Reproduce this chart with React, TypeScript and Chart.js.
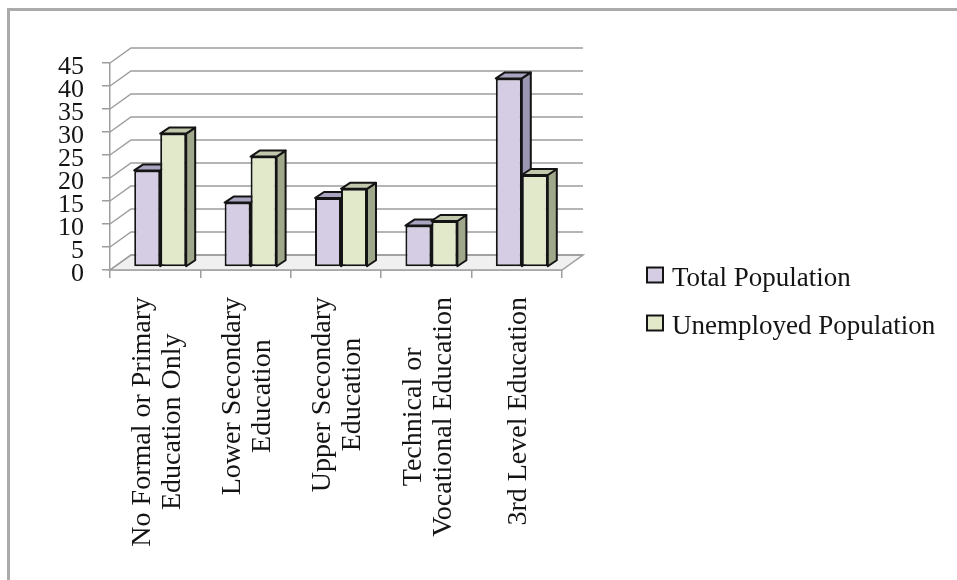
import React, { useEffect, useRef } from "react";
import { Chart, registerables } from "chart.js";

Chart.register(...registerables);

// Education levels (multi-line category labels)
const categories: string[][] = [
  ["No Formal or Primary", "Education Only"],
  ["Lower Secondary", "Education"],
  ["Upper Secondary", "Education"],
  ["Technical or", "Vocational Education"],
  ["3rd Level Education"],
];

const seriesNames = ["Total Population", "Unemployed Population"];
const totalPopulation = [21, 14, 15, 9, 41];
const unemployedPopulation = [29, 24, 17, 10, 20];

const yMin = 0;
const yMax = 45;
const yStep = 5;

const FONT = '"Liberation Serif", "Times New Roman", serif';
const GRID = "#9d9d9d";
const INK = "#141414";

// oblique offset of the back wall relative to the front plane
const WALL_DX = 21;
const WALL_DY = -15;
// bars stand a little behind the front plane
const BAR_SHIFT_X = 5;
const BAR_SHIFT_Y = -3;
// depth of each bar
const BAR_DX = 9;
const BAR_DY = -6;

const faceColors = [
  { front: "#d5cde4", top: "#aaa4c0", side: "#9c97b3" },
  { front: "#e2e9ca", top: "#c1c8ab", side: "#a0a88c" },
];

const LABEL_FONT = 28;
const LABEL_GAP = 27;
const LABEL_LINE = 30;
const LABEL_DX = 2;

// legend block to the right of the plot
const LEGEND_FONT = 27;
const LEGEND_X = 647;
const LEGEND_Y = 279;
const LEGEND_ROW = 48;
const LEGEND_BOX_W = 16;
const LEGEND_BOX_H = 15;
const LEGEND_BOX_LIFT = 4;
const LEGEND_TEXT_GAP = 9;

function poly(ctx: CanvasRenderingContext2D, pts: number[][], fill: string) {
  ctx.beginPath();
  ctx.moveTo(pts[0][0], pts[0][1]);
  for (let k = 1; k < pts.length; k++) ctx.lineTo(pts[k][0], pts[k][1]);
  ctx.closePath();
  ctx.fillStyle = fill;
  ctx.fill();
  ctx.stroke();
}

const box3d = {
  id: "box3d",
  beforeDatasetsDraw(chart: any) {
    const { ctx, chartArea: a, scales } = chart;
    const ys = scales.y;
    ctx.save();
    ctx.lineWidth = 1.5;
    ctx.strokeStyle = GRID;

    // floor
    const y0 = ys.getPixelForValue(yMin);
    ctx.beginPath();
    ctx.moveTo(a.left, y0);
    ctx.lineTo(a.right, y0);
    ctx.lineTo(a.right + WALL_DX, y0 + WALL_DY);
    ctx.lineTo(a.left + WALL_DX, y0 + WALL_DY);
    ctx.closePath();
    ctx.fillStyle = "#f0f0f0";
    ctx.fill();
    ctx.stroke();

    // side wall and back wall gridlines
    ys.ticks.forEach((t: any) => {
      const py = ys.getPixelForValue(t.value);
      ctx.beginPath();
      ctx.moveTo(a.left, py);
      ctx.lineTo(a.left + WALL_DX, py + WALL_DY);
      ctx.lineTo(a.right + WALL_DX, py + WALL_DY);
      ctx.stroke();
    });

    // side and top faces of the bars
    ctx.translate(BAR_SHIFT_X, BAR_SHIFT_Y);
    ctx.strokeStyle = INK;
    ctx.lineWidth = 2;
    ctx.lineJoin = "round";
    const n = chart.data.labels.length;
    for (let i = 0; i < n; i++) {
      chart.data.datasets.forEach((_ds: any, di: number) => {
        if (!chart.isDatasetVisible(di)) return;
        const el = chart.getDatasetMeta(di).data[i];
        const { x, y, base, width } = el.getProps(["x", "y", "base", "width"], true);
        const l = x - width / 2;
        const r = x + width / 2;
        const c = faceColors[di];
        poly(ctx, [[r, base], [r + BAR_DX, base + BAR_DY], [r + BAR_DX, y + BAR_DY], [r, y]], c.side);
        poly(ctx, [[l, y], [r, y], [r + BAR_DX, y + BAR_DY], [l + BAR_DX, y + BAR_DY]], c.top);
      });
    }
    ctx.restore();

    ctx.save();
    ctx.translate(BAR_SHIFT_X, BAR_SHIFT_Y);
  },
  afterDatasetsDraw(chart: any) {
    chart.ctx.restore();
  },
  afterDraw(chart: any) {
    const { ctx, chartArea: a, scales } = chart;
    const xs = scales.x;
    ctx.save();

    // rotated category labels, each block centred line by line
    ctx.font = `${LABEL_FONT}px ${FONT}`;
    ctx.fillStyle = INK;
    ctx.textAlign = "center";
    ctx.textBaseline = "middle";
    chart.data.labels.forEach((lab: any, i: number) => {
      const lines: string[] = Array.isArray(lab) ? lab : [lab];
      const maxW = Math.max(...lines.map((s) => ctx.measureText(s).width));
      const cx = xs.getPixelForValue(i) + LABEL_DX;
      const cy = a.bottom + LABEL_GAP + maxW / 2;
      ctx.save();
      ctx.translate(cx, cy);
      ctx.rotate(-Math.PI / 2);
      lines.forEach((s, j) => ctx.fillText(s, 0, (j - (lines.length - 1) / 2) * LABEL_LINE));
      ctx.restore();
    });

    // legend
    ctx.font = `${LEGEND_FONT}px ${FONT}`;
    ctx.textAlign = "left";
    ctx.textBaseline = "middle";
    ctx.lineWidth = 2;
    ctx.strokeStyle = INK;
    chart.data.datasets.forEach((ds: any, di: number) => {
      const cy = LEGEND_Y + di * LEGEND_ROW;
      const by = cy - LEGEND_BOX_H / 2 - LEGEND_BOX_LIFT;
      ctx.fillStyle = ds.backgroundColor;
      ctx.fillRect(LEGEND_X, by, LEGEND_BOX_W, LEGEND_BOX_H);
      ctx.strokeRect(LEGEND_X, by, LEGEND_BOX_W, LEGEND_BOX_H);
      ctx.fillStyle = INK;
      ctx.fillText(ds.label, LEGEND_X + LEGEND_BOX_W + LEGEND_TEXT_GAP, cy);
    });
    ctx.restore();
  },
};

export default function App() {
  const ref = useRef<HTMLCanvasElement | null>(null);

  useEffect(() => {
    if (!ref.current) return;
    const chart = new Chart(ref.current, {
      type: "bar",
      data: {
        labels: categories,
        datasets: [
          {
            label: seriesNames[0],
            data: totalPopulation,
            backgroundColor: faceColors[0].front,
            borderColor: INK,
            borderWidth: 2,
            borderSkipped: false,
            barPercentage: 1,
            categoryPercentage: 0.575,
          },
          {
            label: seriesNames[1],
            data: unemployedPopulation,
            backgroundColor: faceColors[1].front,
            borderColor: INK,
            borderWidth: 2,
            borderSkipped: false,
            barPercentage: 1,
            categoryPercentage: 0.575,
          },
        ],
      },
      plugins: [box3d],
      options: {
        responsive: false,
        animation: false,
        devicePixelRatio: 1,
        layout: { padding: { top: 63, bottom: 0, left: 0, right: 395 } },
        plugins: {
          legend: { display: false },
          tooltip: { enabled: false },
        },
        scales: {
          x: {
            grid: { offset: true, drawOnChartArea: false, tickLength: 8, color: GRID, lineWidth: 1.5 },
            border: { color: GRID, width: 1.5 },
            ticks: { display: false },
            afterFit: (s: any) => {
              s.height = 310;
            },
          },
          y: {
            min: yMin,
            max: yMax,
            ticks: {
              stepSize: yStep,
              autoSkip: false,
              font: { family: FONT, size: 26 },
              color: INK,
              padding: 18,
              labelOffset: 4,
            },
            grid: { drawOnChartArea: false, tickLength: 8, color: GRID, lineWidth: 1.5 },
            border: { color: GRID, width: 1.5 },
            afterFit: (s: any) => {
              s.width = 110;
            },
          },
        },
      } as any,
    });
    return () => chart.destroy();
  }, []);

  return (
    <>
      <div
        style={{
          position: "fixed",
          left: 7,
          top: 8,
          width: 1000,
          height: 700,
          border: "3px solid #ababab",
          boxSizing: "border-box",
          background: "#fff",
        }}
      />
      <canvas
        ref={ref}
        width={957}
        height={580}
        style={{ position: "fixed", left: 0, top: 0, width: 957, height: 580 }}
      />
    </>
  );
}
